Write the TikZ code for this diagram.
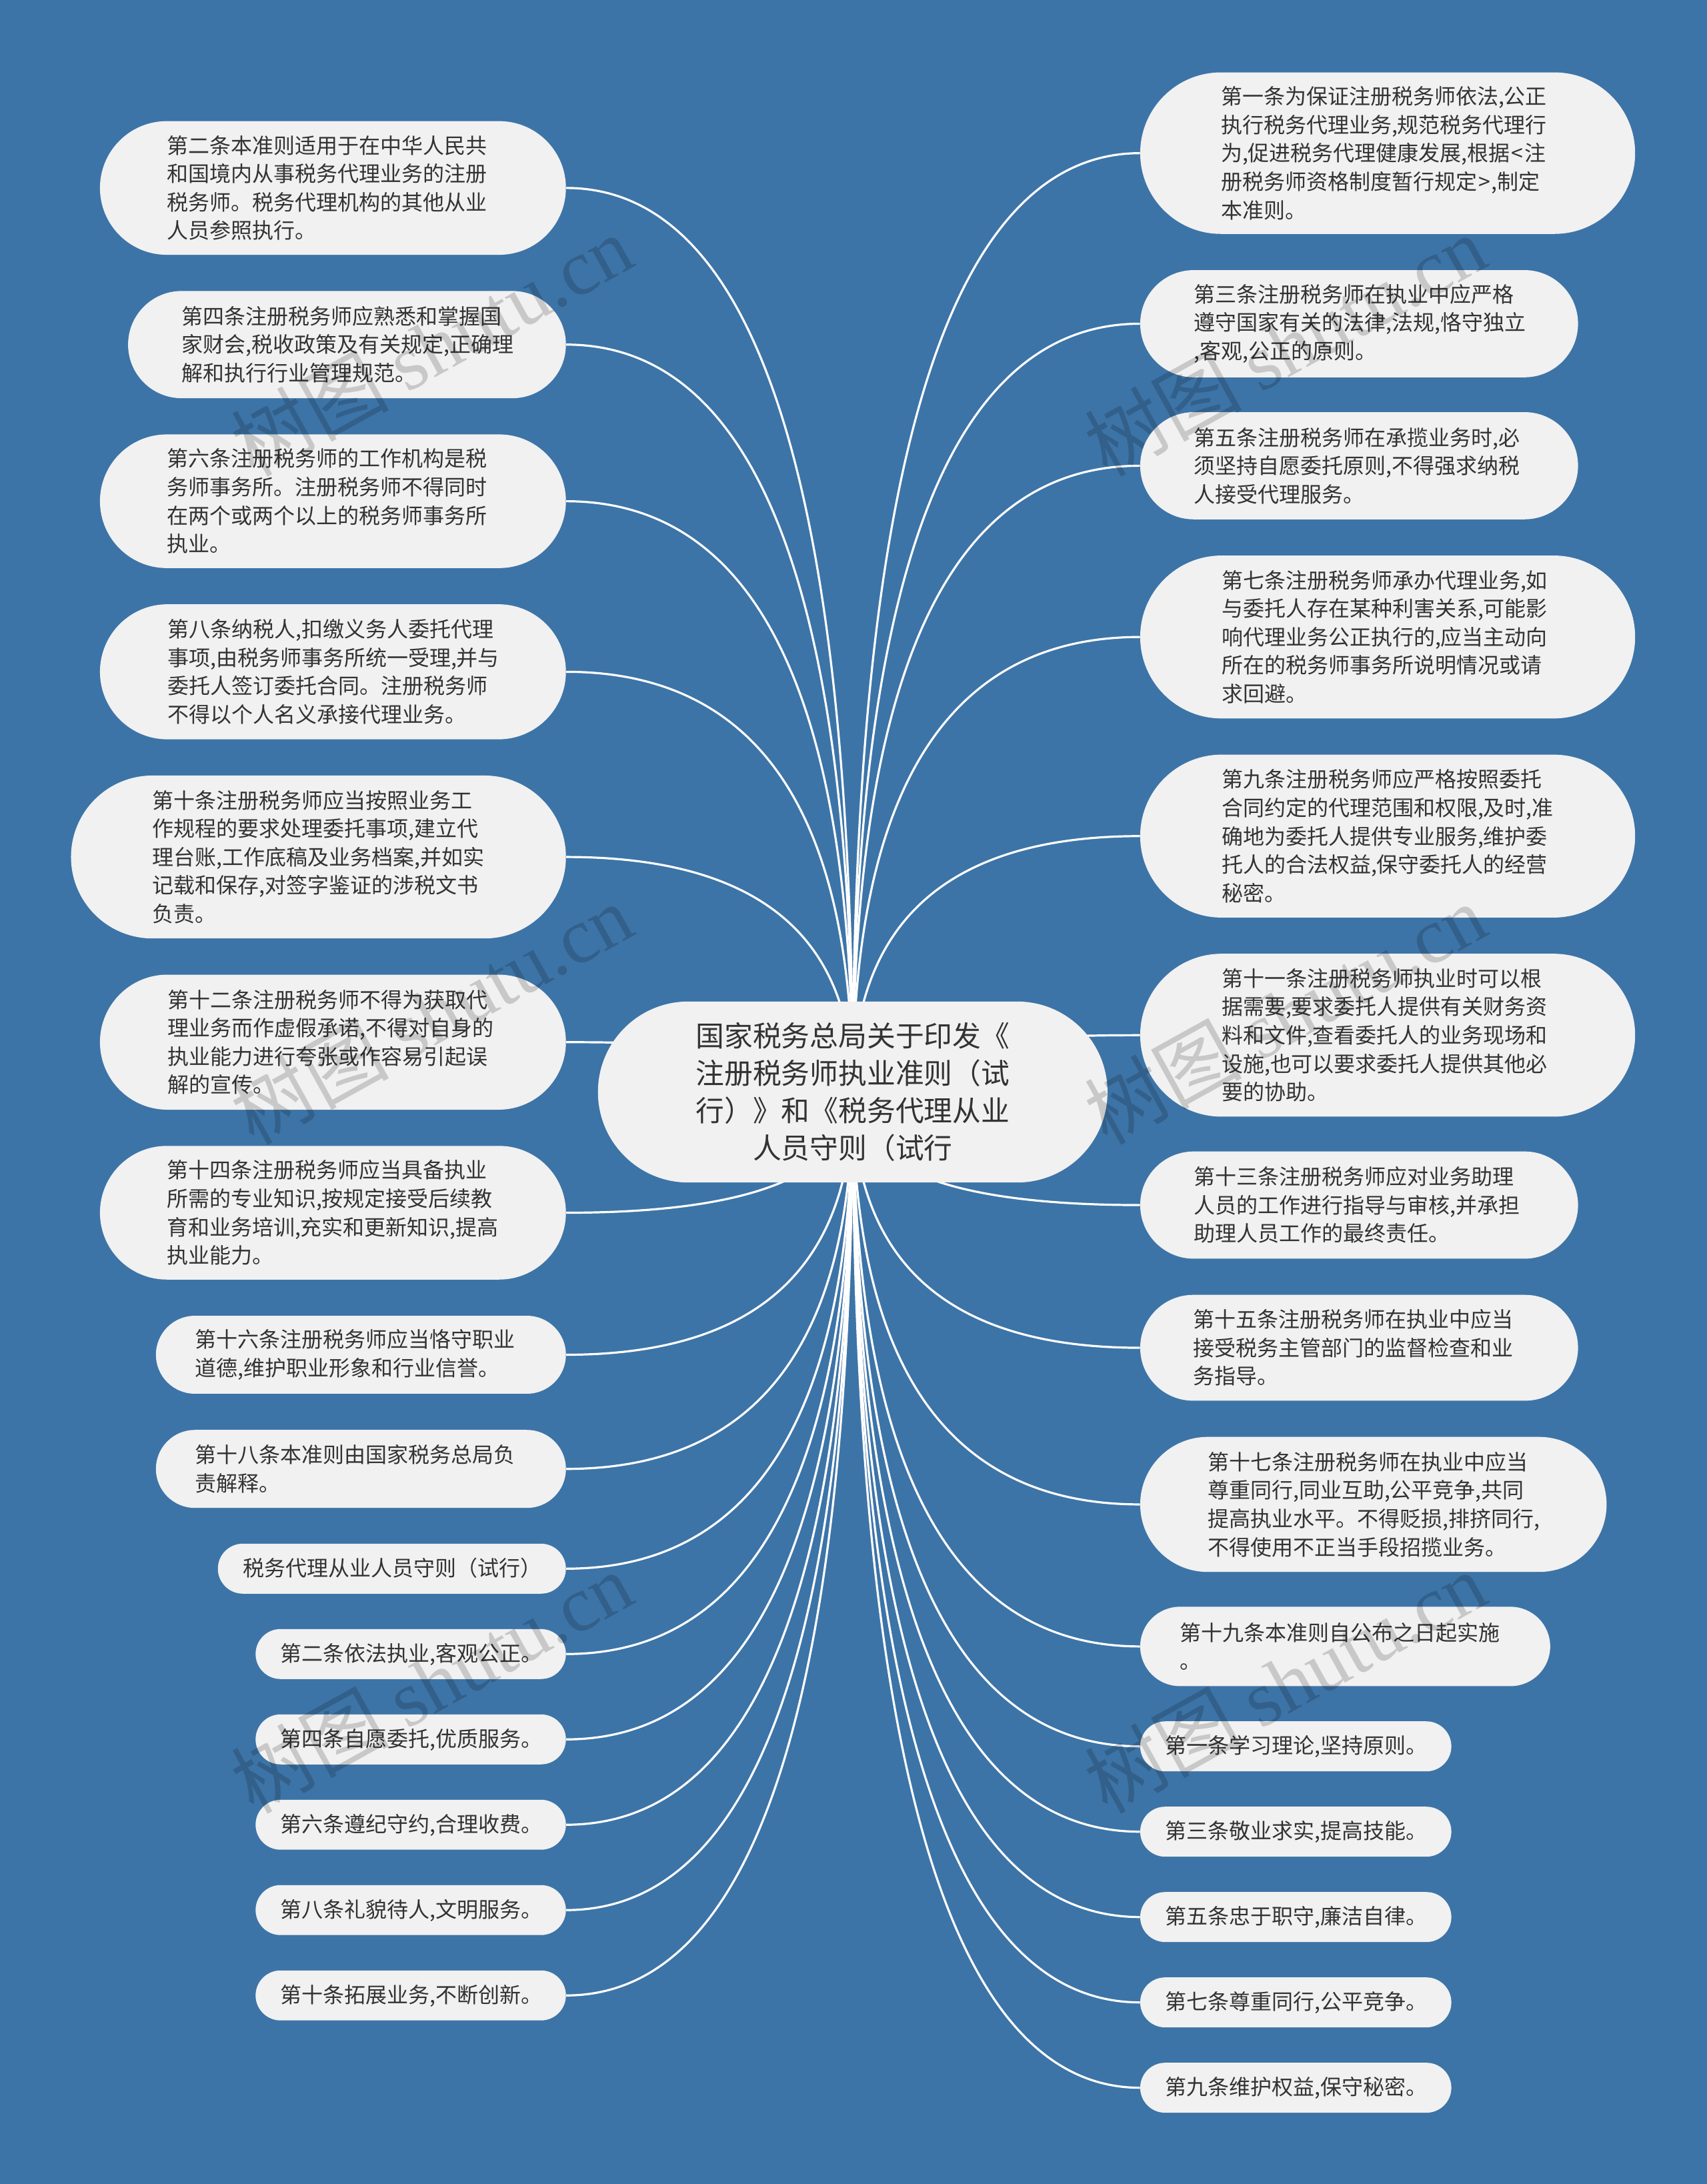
\documentclass[tikz,border=0pt]{standalone}
\usepackage{fontspec}
\setmainfont{Noto Sans CJK SC}
\newfontfamily\wmlatin{Liberation Serif}
\usetikzlibrary{calc,backgrounds}
\definecolor{pagebg}{HTML}{3D74A7}
\definecolor{pillfill}{HTML}{F1F1F1}
\definecolor{pilltext}{HTML}{333333}
\tikzset{
  x=1.04405pt,y=-1.04405pt,
  pill/.style={fill=pillfill,draw=none,text=pilltext,align=left,anchor=center,inner ysep=0pt,
    font=\fontsize{16pt}{21.3pt}\selectfont},
  rootpill/.style={fill=pillfill,draw=none,text=pilltext,align=center,anchor=center,inner ysep=0pt,
    font=\fontsize{21.4pt}{28pt}\selectfont},
  conn/.style={draw=white,line width=1.6pt},
  wmark/.style={text=black,opacity=0.17,rotate=29,anchor=center,font=\fontsize{59pt}{59pt}\selectfont}
}
% #1 name, #2 left, #3 top, #4 right, #5 bottom, #6 text
\newcommand\pillnode[6]{%
  \pgfmathsetlengthmacro\ph{(#5-#3)*1.04405pt}%
  \pgfmathsetlengthmacro\pw{(#4-#2)*1.04405pt}%
  \pgfmathsetlengthmacro\ptw{\pw-\ph}%
  \pgfmathsetlengthmacro\prad{\ph/2-0.01pt}%
  \node[pill,rounded corners=\prad,inner xsep=\ph/2,text width=\ptw,minimum height=\ph]
    (#1) at ({(#2+#4)/2},{(#3+#5)/2}) {#6};%
}
% one-line pill: fixed text frame so that the glyphs sit as in the reference
\newcommand\oneline[1]{\raisebox{0pt}[13pt][2pt]{#1}}
% connector: quadratic curve, leaves child level, arrives vertically at the root centre
\newcommand\linknode[2]{%
  \coordinate (q#1) at (root.center |- #1.#2);%
  \draw[conn] (#1.#2) .. controls ($(#1.#2)!0.6667!(q#1)$) and ($(root.center)!0.6667!(q#1)$) .. (root.center);%
}
\begin{document}
\begin{tikzpicture}
\useasboundingbox (0,0) rectangle (1226,1568.6);
\begin{scope}[on background layer]
\fill[pagebg] (0,0) rectangle (1226,1568.6);
\end{scope}
\pgfmathsetlengthmacro\rh{130*1.04405pt}
\pgfmathsetlengthmacro\rw{366*1.04405pt}
\node[rootpill,rounded corners=\rh/2-0.01pt,minimum width=\rw,minimum height=\rh,text width=240pt]
  (root) at (612.5,784.3) {国家税务总局关于印发《\\注册税务师执业准则（试\\行）》和《税务代理从业\\人员守则（试行};
% left
\pillnode{la}{71.8}{87}{406.5}{183}{第二条本准则适用于在中华人民共\\和国境内从事税务代理业务的注册\\税务师。税务代理机构的其他从业\\人员参照执行。}
\pillnode{lb}{92}{209}{406.5}{286}{第四条注册税务师应熟悉和掌握国\\家财会,税收政策及有关规定,正确理\\解和执行行业管理规范。}
\pillnode{lc}{71.8}{312}{406.5}{408}{第六条注册税务师的工作机构是税\\务师事务所。注册税务师不得同时\\在两个或两个以上的税务师事务所\\执业。}
\pillnode{ld}{71.8}{434}{406.5}{531}{第八条纳税人,扣缴义务人委托代理\\事项,由税务师事务所统一受理,并与\\委托人签订委托合同。注册税务师\\不得以个人名义承接代理业务。}
\pillnode{le}{51}{557}{406.5}{674}{第十条注册税务师应当按照业务工\\作规程的要求处理委托事项,建立代\\理台账,工作底稿及业务档案,并如实\\记载和保存,对签字鉴证的涉税文书\\负责。}
\pillnode{lf}{71.8}{700}{406.5}{797}{第十二条注册税务师不得为获取代\\理业务而作虚假承诺,不得对自身的\\执业能力进行夸张或作容易引起误\\解的宣传。}
\pillnode{lg}{71.8}{823}{406.5}{919}{第十四条注册税务师应当具备执业\\所需的专业知识,按规定接受后续教\\育和业务培训,充实和更新知识,提高\\执业能力。}
\pillnode{lh}{112}{945}{406.5}{1001}{第十六条注册税务师应当恪守职业\\道德,维护职业形象和行业信誉。}
\pillnode{li}{112}{1027}{406.5}{1083}{第十八条本准则由国家税务总局负\\责解释。}
\pillnode{lj}{156.5}{1108.7}{406.5}{1144.6}{\oneline{税务代理从业人员守则（试行）}}
\pillnode{lk}{183.6}{1170}{406.5}{1205.9}{\oneline{第二条依法执业,客观公正。}}
\pillnode{ll}{183.6}{1231.3}{406.5}{1267.2}{\oneline{第四条自愿委托,优质服务。}}
\pillnode{lm}{183.6}{1292.6}{406.5}{1328.5}{\oneline{第六条遵纪守约,合理收费。}}
\pillnode{ln}{183.6}{1353.9}{406.5}{1389.8}{\oneline{第八条礼貌待人,文明服务。}}
\pillnode{lo}{183.6}{1415.2}{406.5}{1451.1}{\oneline{第十条拓展业务,不断创新。}}
% right
\pillnode{ra}{819}{52}{1174.5}{168}{第一条为保证注册税务师依法,公正\\执行税务代理业务,规范税务代理行\\为,促进税务代理健康发展,根据\kern1pt<\kern1pt注\\册税务师资格制度暂行规定\kern1pt>\kern1pt,制定\\本准则。}
\pillnode{rb}{819}{194}{1133.5}{271}{第三条注册税务师在执业中应严格\\遵守国家有关的法律,法规,恪守独立\\,客观,公正的原则。}
\pillnode{rc}{819}{296}{1133.5}{373}{第五条注册税务师在承揽业务时,必\\须坚持自愿委托原则,不得强求纳税\\人接受代理服务。}
\pillnode{rd}{819}{399}{1174.5}{516}{第七条注册税务师承办代理业务,如\\与委托人存在某种利害关系,可能影\\响代理业务公正执行的,应当主动向\\所在的税务师事务所说明情况或请\\求回避。}
\pillnode{re}{819}{542}{1174.5}{659}{第九条注册税务师应严格按照委托\\合同约定的代理范围和权限,及时,准\\确地为委托人提供专业服务,维护委\\托人的合法权益,保守委托人的经营\\秘密。}
\pillnode{rf}{819}{685}{1174.5}{802}{第十一条注册税务师执业时可以根\\据需要,要求委托人提供有关财务资\\料和文件,查看委托人的业务现场和\\设施,也可以要求委托人提供其他必\\要的协助。}
\pillnode{rg}{819}{827}{1133.5}{904}{第十三条注册税务师应对业务助理\\人员的工作进行指导与审核,并承担\\助理人员工作的最终责任。}
\pillnode{rh}{819}{930}{1133.5}{1006}{第十五条注册税务师在执业中应当\\接受税务主管部门的监督检查和业\\务指导。}
\pillnode{ri}{819}{1032}{1154}{1129}{第十七条注册税务师在执业中应当\\尊重同行,同业互助,公平竞争,共同\\提高执业水平。不得贬损,排挤同行,\\不得使用不正当手段招揽业务。}
\pillnode{rj}{819}{1154}{1113.5}{1211}{第十九条本准则自公布之日起实施\\。}
\pillnode{rk}{819}{1236.3}{1042.5}{1272.2}{\oneline{第一条学习理论,坚持原则。}}
\pillnode{rl}{819}{1297.6}{1042.5}{1333.5}{\oneline{第三条敬业求实,提高技能。}}
\pillnode{rm}{819}{1358.9}{1042.5}{1394.8}{\oneline{第五条忠于职守,廉洁自律。}}
\pillnode{rn}{819}{1420.2}{1042.5}{1456.1}{\oneline{第七条尊重同行,公平竞争。}}
\pillnode{ro}{819}{1481.5}{1042.5}{1517.4}{\oneline{第九条维护权益,保守秘密。}}
\begin{scope}[on background layer]
\foreach \c in {la,lb,lc,ld,le,lf,lg,lh,li,lj,lk,ll,lm,ln,lo}{\linknode{\c}{east}}
\foreach \c in {ra,rb,rc,rd,re,rf,rg,rh,ri,rj,rk,rl,rm,rn,ro}{\linknode{\c}{west}}
\end{scope}
% watermarks
\node[wmark] (wa) at (310,248) {树图 {\wmlatin shutu.cn}};
\node[wmark] (wb) at (923,248) {树图 {\wmlatin shutu.cn}};
\node[wmark] (wc) at (310,728) {树图 {\wmlatin shutu.cn}};
\node[wmark] (wd) at (923,728) {树图 {\wmlatin shutu.cn}};
\node[wmark] (we) at (310,1208) {树图 {\wmlatin shutu.cn}};
\node[wmark] (wf) at (923,1208) {树图 {\wmlatin shutu.cn}};
\end{tikzpicture}
\end{document}
